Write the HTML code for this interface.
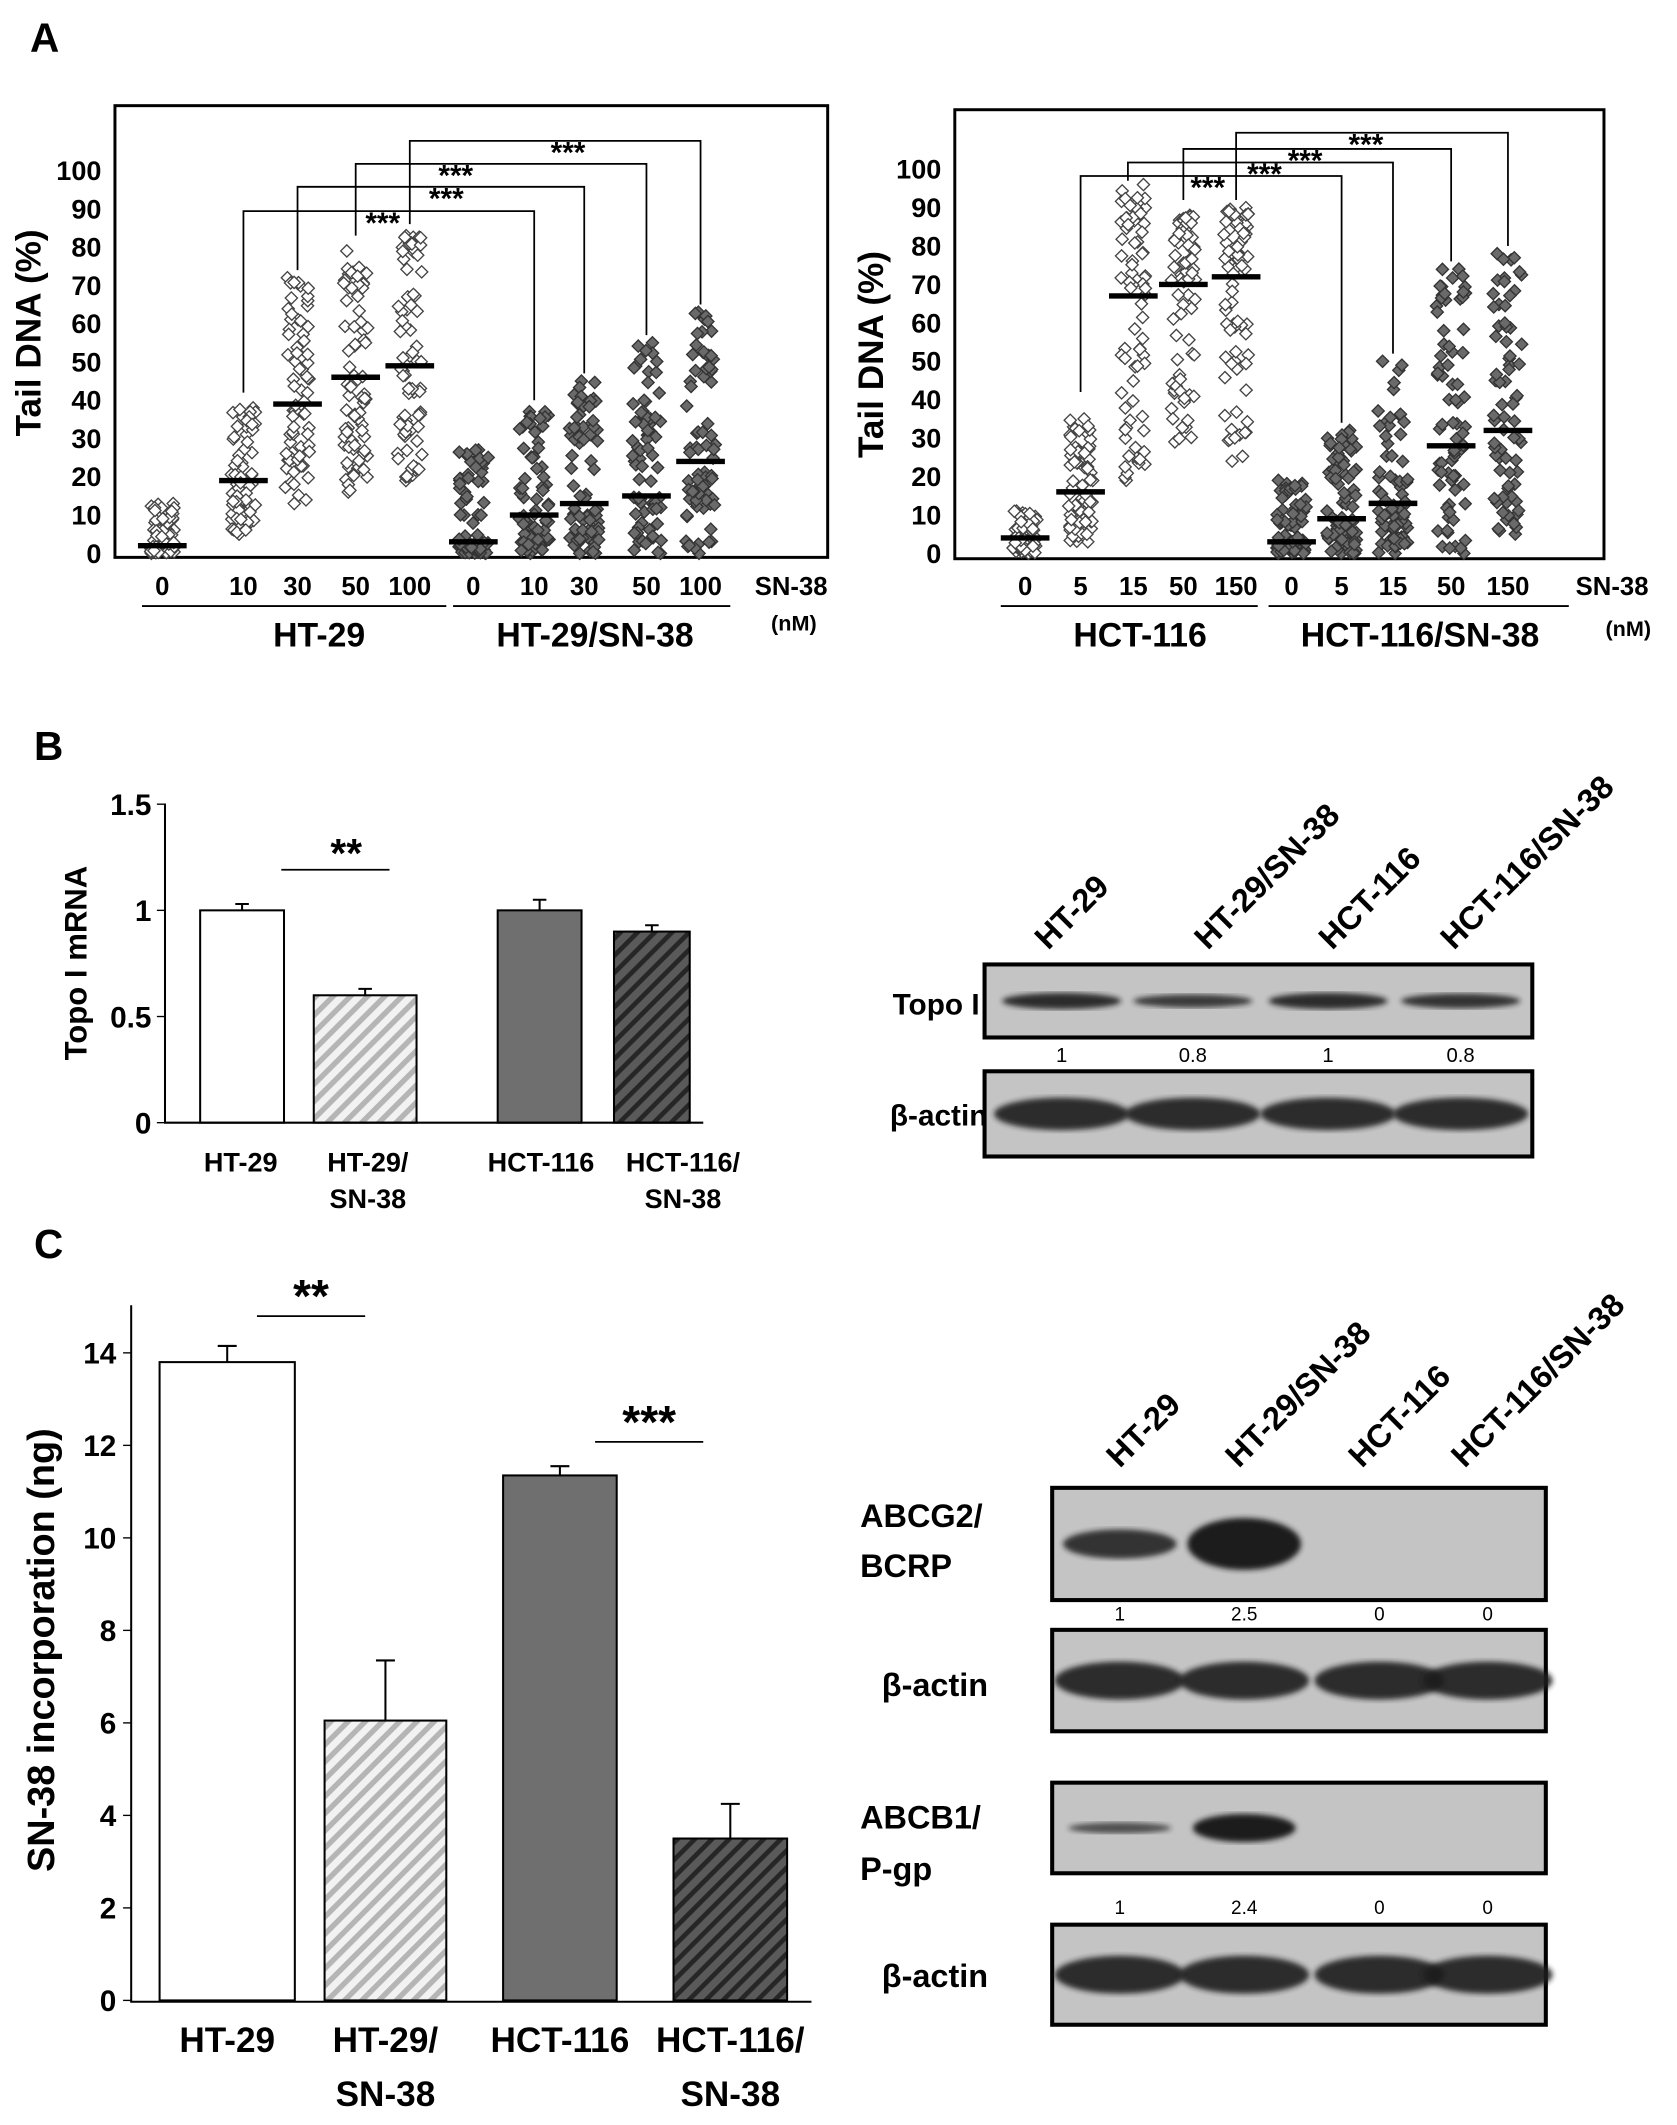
<!DOCTYPE html>
<html><head><meta charset="utf-8">
<style>
html,body{margin:0;padding:0;background:#fff;}
svg{display:block;font-family:"Liberation Sans",Arial,sans-serif;}
</style></head>
<body>
<svg id="fig" width="1677" height="2125" viewBox="0 0 1240 1571" xmlns="http://www.w3.org/2000/svg">
<defs>
<pattern id="hatchLight" patternUnits="userSpaceOnUse" width="9" height="9" patternTransform="rotate(45)">
<rect width="9" height="9" fill="#f2f2f2"/><rect width="4" height="9" fill="#b5b5b5"/></pattern>
<pattern id="hatchDark" patternUnits="userSpaceOnUse" width="9" height="9" patternTransform="rotate(45)">
<rect width="9" height="9" fill="#5a5a5a"/><rect width="3.5" height="9" fill="#262626"/></pattern>
<filter id="blur2"><feGaussianBlur stdDeviation="2"/></filter>
</defs>
<g id="root"></g>
</svg>
<script>
// ---------- Panel A data ----------
const aLeftCats = ["0","10","30","50","100","0","10","30","50","100"];
const aLeftMedians = [2,19,39,46,49,3,10,13,15,24];
const aLeftMins = [0,5,13,16,19,0,0,0,0,0];
const aLeftMaxs = [13,38,72,79,83,27,37,45,55,63];
const aRightCats = ["0","5","15","50","150","0","5","15","50","150"];
const aRightMedians = [4,16,67,70,72,3,9,13,28,32];
const aRightMins = [0,3,19,29,24,0,0,0,0,5];
const aRightMaxs = [11,35,96,88,90,19,32,50,74,78];
const aTicks = [0,10,20,30,40,50,60,70,80,90,100];
// ---------- Panel B data ----------
const bCats = ["HT-29","HT-29/","HCT-116","HCT-116/"];
const bCats2 = ["","SN-38","","SN-38"];
const bValues = [1.0,0.6,1.0,0.9];
const bErrors = [0.03,0.03,0.05,0.03];
const bTicks = [0,0.5,1,1.5];
const bTickLabels = ["0","0.5","1","1.5"];
// ---------- Panel C data ----------
const cValues = [13.8,6.05,11.35,3.5];
const cErrors = [0.35,1.3,0.2,0.75];
const cTicks = [0,2,4,6,8,10,12,14];
const blotLanes = ["HT-29","HT-29/SN-38","HCT-116","HCT-116/SN-38"];
const topoQuant = ["1","0.8","1","0.8"];
const bcrpQuant = ["1","2.5","0","0"];
const pgpQuant = ["1","2.4","0","0"];

const NS="http://www.w3.org/2000/svg";
const root=document.getElementById('root');
function mk(tag,attrs,parent,text){const e=document.createElementNS(NS,tag);for(const k in attrs)e.setAttribute(k,attrs[k]);if(text!==undefined)e.textContent=text;(parent||root).appendChild(e);return e;}
function txt(x,y,s,size,name,anchor,extra){
  const t=mk('text',Object.assign({x:x,y:y,'font-size':size,'font-weight':'bold','text-anchor':anchor||'middle'},extra||{}),root,s);
  
  
  return t;
}
let seed=12345;function rnd(){seed=(seed*16807)%2147483647;return (seed-1)/2147483646;}

// ---------- Panel A ----------
txt(33,38,"A",30,"panel-a-label");
function scatterPanel(box,xs,cats,meds,mins,maxs){
  const yS=v=>box.y0-(box.y0-box.y100)*v/100;
  const fr=mk('rect',{x:box.l,y:box.t,width:box.r-box.l,height:box.b-box.t,fill:'none',stroke:'#000','stroke-width':2.2});
  
  
  aTicks.forEach(v=>{txt(box.l-10,yS(v)+7,String(v),20,"y-tick-label","end");});
  xs.forEach((x,i)=>{
    const open=i<5;
    const n=75;
    for(let k=0;k<n;k++){
      let u=rnd(),w=rnd();
      let v=meds[i]+(u<0.5?-(meds[i]-mins[i])*Math.pow(w,0.9):(maxs[i]-meds[i])*Math.pow(w,0.9));
      if(k===0)v=maxs[i]; if(k===1)v=mins[i];
      const px=x+(rnd()-0.5)*(open?18:22), py=yS(v);
      const d=mk('path',{d:`M${px},${py-4.5} L${px+4.5},${py} L${px},${py+4.5} L${px-4.5},${py} Z`,fill:open?'#fff':'#6a6a6a',stroke:open?'#444':'#333','stroke-width':1});
      
      
    }
    const m=mk('line',{x1:x-18,x2:x+18,y1:yS(meds[i]),y2:yS(meds[i]),stroke:'#000','stroke-width':4});
    
    
    txt(x,440,cats[i],19,"x-tick-label");
  });
  return yS;
}
const L={l:85,r:612,t:78,b:412,y0:409,y100:126};
const Lx=[120,180,220,263,303,350,395,432,478,518];
const yL=scatterPanel(L,Lx,aLeftCats,aLeftMedians,aLeftMins,aLeftMaxs);
const R={l:706,r:1186,t:81,b:413,y0:409,y100:125};
const Rx=[758,799,838,875,914,955,992,1030,1073,1115];
const yR=scatterPanel(R,Rx,aRightCats,aRightMedians,aRightMins,aRightMaxs);
function bracket(x1,x2,y,yb1,yb2,sx,name){
  const p=mk('path',{d:`M${x1},${yb1} L${x1},${y} L${x2},${y} L${x2},${yb2}`,fill:'none',stroke:'#000','stroke-width':1.3});
  
  
  txt(sx,y+16,"***",22,"significance-stars");
}
bracket(180,395,156,yL(42),yL(40),283,"bracket-10");
bracket(220,432,138,yL(74),yL(47),330,"bracket-30");
bracket(263,478,121,yL(83),yL(57),337,"bracket-50");
bracket(303,518,104,yL(86),yL(65),420,"bracket-100");
bracket(799,992,130,yR(42),yR(34),893,"bracket-r5");
bracket(834,1030,120,yR(97),yR(52),935,"bracket-r15");
bracket(875,1073,110,yR(92),yR(76),965,"bracket-r50");
bracket(914,1115,98,yR(92),yR(80),1010,"bracket-r150");
txt(30,246,"Tail DNA (%)",26,"y-axis-title","middle",{transform:"rotate(-90 30 246)"});
txt(653,262,"Tail DNA (%)",26,"y-axis-title-right","middle",{transform:"rotate(-90 653 262)"});
[[105,330],[335,540],[740,930],[938,1160]].forEach(s=>{const l=mk('line',{x1:s[0],x2:s[1],y1:448,y2:448,stroke:'#000','stroke-width':1.3});});
txt(236,478,"HT-29",25,"group-label-ht29");
txt(440,478,"HT-29/SN-38",25,"group-label-ht29-sn38");
txt(843,478,"HCT-116",25,"group-label-hct116");
txt(1050,478,"HCT-116/SN-38",25,"group-label-hct116-sn38");
txt(585,440,"SN-38",19,"x-unit-label");txt(587,466,"(nM)",16,"x-unit-nm");
txt(1192,440,"SN-38",19,"x-unit-label-right");txt(1204,470,"(nM)",16,"x-unit-nm-right");

// ---------- Panel B ----------
txt(36,562,"B",30,"panel-b-label");
const bY=v=>830-v*157;
const bX=[[148,210],[232,308],[368,430],[454,510]];
const bLx=[178,272,400,505];
const fills=['#fff','url(#hatchLight)','#6f6f6f','url(#hatchDark)'];
bValues.forEach((v,i)=>{
  const r=mk('rect',{x:bX[i][0],y:bY(v),width:bX[i][1]-bX[i][0],height:830-bY(v),fill:fills[i],stroke:'#000','stroke-width':1.5});
  
  
  const cx=(bX[i][0]+bX[i][1])/2;
  const e=mk('path',{d:`M${cx},${bY(v)} L${cx},${bY(v+bErrors[i])} M${cx-5},${bY(v+bErrors[i])} L${cx+5},${bY(v+bErrors[i])}`,stroke:'#000','stroke-width':1.5,fill:'none'});
  
  
  txt(bLx[i],866,bCats[i],20,"x-label");txt(bLx[i],893,bCats2[i],20,"x-label-2");
});
mk('path',{d:`M122,594 L122,830 L520,830`,fill:'none',stroke:'#000','stroke-width':1.5});
bTicks.forEach((v,i)=>{mk('line',{x1:116,x2:122,y1:bY(v),y2:bY(v),stroke:'#000'});txt(112,bY(v)+8,bTickLabels[i],22,"y-tick-label","end");});
txt(64,712,"Topo I mRNA",23,"y-axis-title-b","middle",{transform:"rotate(-90 64 712)"});
mk('line',{x1:208,x2:288,y1:643,y2:643,stroke:'#000','stroke-width':1.3});
txt(256,641,"**",30,"significance-stars-b");

function blot(x,y,w,h,lanes,intens,bh,name){
  const g=mk('g',{});
  
  
  mk('rect',{x:x,y:y,width:w,height:h,fill:'#c4c4c4',stroke:'#000','stroke-width':3},g);
  lanes.forEach((cx,i)=>{ if(intens[i]>0) mk('ellipse',{cx:cx,cy:y+h/2,rx:bh[0],ry:bh[1]*intens[i],fill:'#1a1a1a',opacity:Math.min(1,0.5+intens[i]*0.4),filter:'url(#blur2)'},g);});
}
const laneB=[785,882,982,1080];
blot(728,713,405,54,laneB,[1,0.8,1,0.9],[44,6],"blot-topo1");
blot(728,792,405,63,laneB,[1,1,1,1],[50,12],"blot-actin-b");
txt(660,750,"Topo I",22,"blot-label-topo1","start");
txt(658,832,"β-actin",22,"blot-label-actin-b","start");
topoQuant.forEach((s,i)=>{const t=mk('text',{x:laneB[i],y:785,'font-size':15,'text-anchor':'middle'},root,s);});
const hdrB=[[775,703],[893,703],[985,703],[1075,703]];
blotLanes.forEach((s,i)=>txt(hdrB[i][0],hdrB[i][1],s,24,"lane-header","start",{transform:`rotate(-45 ${hdrB[i][0]} ${hdrB[i][1]})`}));

// ---------- Panel C ----------
txt(36,930,"C",30,"panel-c-label");
const cY=v=>1479-v*34.2;
const cX=[[118,218],[240,330],[372,456],[498,582]];
const cN1=["HT-29","HT-29/","HCT-116","HCT-116/"],cN2=["","SN-38","","SN-38"];
cValues.forEach((v,i)=>{
  const r=mk('rect',{x:cX[i][0],y:cY(v),width:cX[i][1]-cX[i][0],height:1479-cY(v),fill:fills[i],stroke:'#000','stroke-width':1.5});
  
  
  const cx=(cX[i][0]+cX[i][1])/2;
  const e=mk('path',{d:`M${cx},${cY(v)} L${cx},${cY(v+cErrors[i])} M${cx-7},${cY(v+cErrors[i])} L${cx+7},${cY(v+cErrors[i])}`,stroke:'#000','stroke-width':1.5,fill:'none'});
  
  
  txt(cx,1517,cN1[i],26,"x-label");txt(cx,1557,cN2[i],26,"x-label-2");
});
mk('path',{d:`M97,965 L97,1480 L600,1480`,fill:'none',stroke:'#000','stroke-width':1.5});
cTicks.forEach(v=>{mk('line',{x1:91,x2:97,y1:cY(v),y2:cY(v),stroke:'#000'});txt(86,cY(v)+8,String(v),22,"y-tick-label","end");});
txt(40,1220,"SN-38 incorporation  (ng)",28,"y-axis-title-c","middle",{transform:"rotate(-90 40 1220)"});
mk('line',{x1:190,x2:270,y1:973,y2:973,stroke:'#000','stroke-width':1.3});
txt(230,970,"**",34,"significance-stars-c1");
mk('line',{x1:440,x2:520,y1:1066,y2:1066,stroke:'#000','stroke-width':1.3});
txt(480,1063,"***",34,"significance-stars-c2");

const laneC=[828,920,1020,1100];
blot(778,1100,365,83,laneC,[0.9,1.6,0,0],[42,12],"blot-abcg2");
blot(778,1205,365,75,laneC,[1,1,1,1],[48,14],"blot-actin-c1");
blot(778,1318,365,67,laneC,[0.5,1.3,0,0],[38,8],"blot-abcb1");
blot(778,1423,365,74,laneC,[1,1,1,1],[48,14],"blot-actin-c2");
txt(636,1129,"ABCG2/",24,"blot-label-abcg2","start");txt(636,1166,"BCRP",24,"blot-label-bcrp","start");
txt(652,1254,"β-actin",24,"blot-label-actin-c1","start");
txt(636,1352,"ABCB1/",24,"blot-label-abcb1","start");txt(636,1390,"P-gp",24,"blot-label-pgp","start");
txt(652,1469,"β-actin",24,"blot-label-actin-c2","start");
bcrpQuant.forEach((s,i)=>{const t=mk('text',{x:laneC[i],y:1198,'font-size':14,'text-anchor':'middle'},root,s);});
pgpQuant.forEach((s,i)=>{const t=mk('text',{x:laneC[i],y:1415,'font-size':14,'text-anchor':'middle'},root,s);});
const hdrC=[[828,1086],[916,1086],[1007,1086],[1083,1086]];
blotLanes.forEach((s,i)=>txt(hdrC[i][0],hdrC[i][1],s,24,"lane-header","start",{transform:`rotate(-45 ${hdrC[i][0]} ${hdrC[i][1]})`}));
</script>
</body></html>
